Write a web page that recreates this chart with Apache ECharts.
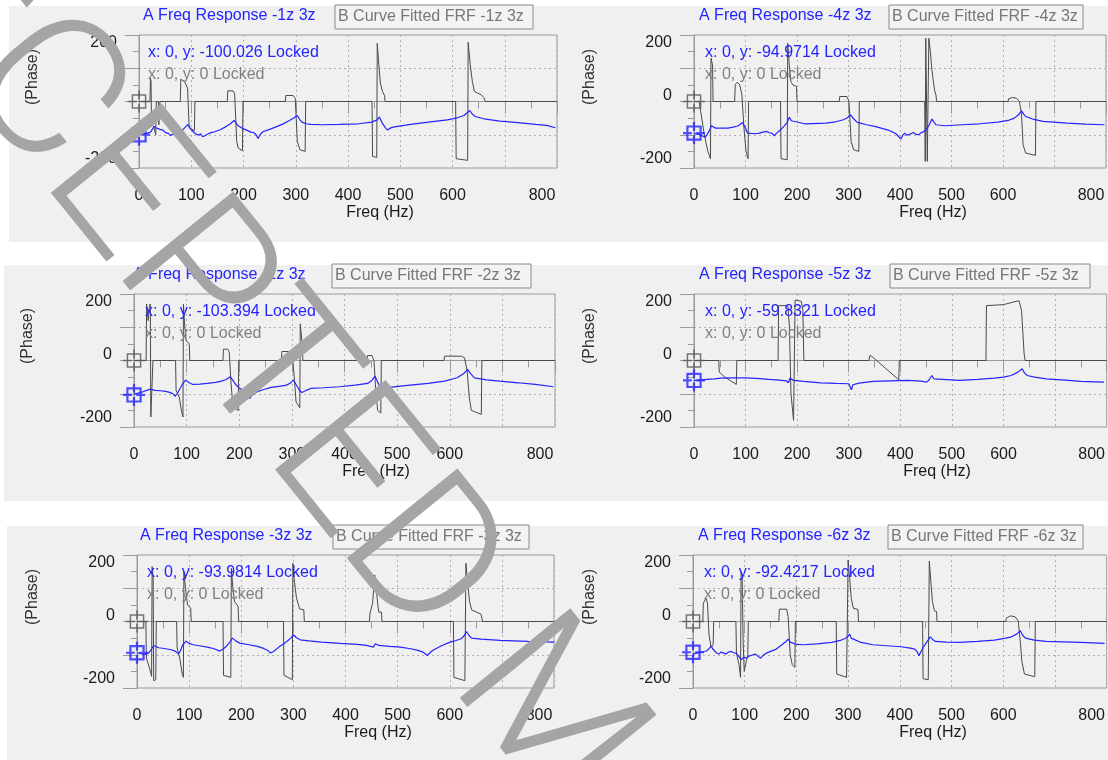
<!DOCTYPE html>
<html><head><meta charset="utf-8">
<script src="https://cdn.jsdelivr.net/npm/echarts@6/dist/echarts.min.js"></script>
<style>html,body{margin:0;padding:0;background:#fff}#c{width:1108px;height:760px}</style>
</head><body><div id="c"></div>
<script>
// ---------------- DATA ----------------
const panelIds = ['1z', '4z', '2z', '5z', '3z', '6z'];
const cursorA = [-100.026, -94.9714, -103.394, -59.8321, -93.9814, -92.4217];
const cursorB = [0, 0, 0, 0, 0, 0];
const freqTickLabels = [0, 100, 200, 300, 400, 500, 600, 800];
const phaseTickLabels = [-200, 0, 200];
const watermarkText = 'ACCEPTED MANUSCRIPT';

const A_1z = [[0,-101],[8,-97],[15,-96],[22,-92],[29,-75],[35,-81],[40,-84],[46,-86],[50,-93],[53,-90],[56,-96],[60,-102],[63,-106],[66,-98],[70,-96],[74,-93],[80,-91],[85,-83],[90,-75],[94,-69],[98,-80],[104,-91],[108,-97],[114,-101],[118,-97],[122,-106],[126,-103],[130,-99],[134,-96],[140,-93],[145,-91],[155,-85],[165,-77],[175,-67],[182,-57],[189,-72],[197,-80],[206,-86],[214,-92],[220,-94],[224,-100],[228,-111],[232,-99],[237,-91],[250,-84],[261,-77],[275,-68],[288,-57],[297,-49],[303,-42],[308,-55],[312,-62],[320,-67],[329,-69],[350,-70],[384,-69],[420,-67],[445,-62],[455,-56],[460,-47],[466,-66],[472,-80],[476,-86],[481,-80],[486,-77],[520,-69],[554,-62],[590,-55],[609,-49],[622,-42],[633,-27],[638,-38],[643,-45],[660,-52],[691,-59],[720,-63],[759,-69],[780,-72],[797,-79]];
const B_1z = [[0,0],[21,0],[22,70],[23,60],[24,-70],[28,-75],[32,-100],[33,0],[37,0],[38,-70],[39,-70],[40,0],[79,0],[80,67],[87,60],[93,40],[96,-80],[106,-88],[107,0],[169,0],[170,32],[180,32],[183,25],[187,-120],[190,-140],[198,-148],[199,0],[280,0],[281,18],[295,18],[299,10],[303,-120],[308,-145],[318,-150],[319,0],[446,0],[447,-165],[455,-168],[456,175],[459,110],[462,55],[466,30],[470,18],[471,0],[606,0],[607,-172],[629,-177],[630,178],[634,110],[638,60],[642,30],[655,20],[660,12],[663,0],[800,0]];

const A_4z = [[0,-95],[6,-98],[12,-100],[17,-104],[22,-107],[26,-98],[29,-90],[34,-73],[38,-77],[42,-80],[55,-80],[66,-80],[76,-77],[86,-73],[94,-63],[100,-80],[104,-95],[107,-100],[111,-96],[114,-93],[120,-97],[127,-95],[134,-92],[141,-90],[146,-94],[151,-95],[156,-103],[160,-96],[168,-85],[175,-74],[181,-63],[185,-47],[189,-58],[192,-63],[215,-67],[256,-65],[275,-61],[290,-55],[298,-49],[304,-40],[310,-52],[317,-63],[335,-70],[351,-75],[365,-81],[379,-87],[386,-92],[392,-97],[396,-103],[399,-105],[402,-113],[405,-102],[409,-95],[413,-101],[416,-105],[420,-98],[426,-93],[431,-99],[436,-100],[441,-94],[447,-90],[452,-82],[457,-70],[462,-53],[466,-62],[470,-70],[487,-73],[520,-70],[555,-67],[590,-62],[610,-57],[622,-50],[630,-40],[636,-28],[640,-38],[644,-45],[660,-54],[678,-60],[725,-65],[760,-68],[797,-70]];
const B_4z = [[0,0],[10,0],[13,-30],[20,-100],[27,-150],[32,-172],[33,130],[36,110],[37,0],[79,0],[80,50],[84,58],[89,50],[93,20],[97,-80],[101,-150],[105,-172],[106,0],[168,0],[169,-172],[181,-175],[182,175],[185,110],[188,60],[192,50],[199,45],[200,0],[282,0],[283,15],[297,15],[301,0],[305,-120],[310,-145],[320,-150],[321,0],[448,0],[449,-180],[450,190],[452,185],[453,-180],[455,-180],[456,190],[459,150],[461,110],[464,70],[467,35],[470,18],[471,0],[610,0],[611,8],[618,12],[626,10],[632,0],[636,-40],[639,-130],[644,-155],[663,-162],[664,0],[800,0]];

const A_2z = [[0,-101],[8,-98],[17,-94],[24,-90],[31,-86],[40,-90],[51,-91],[60,-93],[68,-96],[74,-100],[78,-108],[82,-100],[85,-91],[92,-72],[98,-59],[104,-66],[112,-72],[125,-71],[139,-69],[155,-66],[166,-62],[175,-57],[183,-49],[188,-60],[193,-72],[200,-82],[207,-91],[214,-100],[220,-114],[224,-105],[231,-96],[245,-88],[261,-81],[275,-78],[288,-75],[297,-68],[303,-59],[309,-75],[315,-91],[319,-96],[327,-90],[336,-84],[360,-82],[390,-79],[420,-74],[444,-69],[452,-60],[458,-47],[463,-65],[468,-81],[473,-90],[477,-96],[481,-88],[485,-81],[520,-75],[559,-69],[590,-62],[614,-52],[626,-40],[634,-27],[640,-40],[647,-52],[670,-58],[695,-62],[730,-67],[763,-72],[797,-79]];
const B_2z = [[0,0],[23,0],[24,170],[27,120],[29,160],[31,170],[32,-170],[35,-170],[36,0],[79,0],[80,-90],[86,-110],[90,-150],[93,-170],[94,170],[96,110],[99,60],[105,50],[106,0],[169,0],[170,34],[178,34],[181,25],[184,-60],[187,-120],[193,-145],[198,-150],[199,0],[280,0],[281,27],[297,27],[301,15],[305,-60],[308,-125],[315,-142],[316,110],[319,60],[321,0],[443,0],[444,15],[452,15],[456,0],[459,-80],[463,-150],[469,-158],[470,0],[589,0],[590,13],[622,13],[628,8],[633,-30],[637,-110],[641,-150],[660,-162],[661,0],[800,0]];

const A_5z = [[0,-60],[10,-59],[25,-57],[40,-55],[52,-53],[75,-52],[99,-52],[120,-54],[146,-57],[165,-59],[179,-61],[183,-67],[186,-53],[193,-60],[213,-63],[246,-67],[275,-69],[300,-70],[303,-76],[305,-88],[308,-73],[320,-68],[347,-63],[380,-61],[414,-60],[440,-62],[451,-65],[456,-58],[461,-45],[465,-55],[468,-60],[515,-60],[550,-57],[582,-53],[600,-50],[615,-45],[628,-35],[636,-25],[641,-38],[646,-45],[660,-50],[683,-55],[720,-59],[750,-63],[795,-65]];
const B_5z = [[0,0],[48,0],[49,-35],[60,-50],[82,-72],[83,0],[163,0],[164,165],[182,165],[185,100],[188,-100],[193,-180],[195,-182],[196,182],[208,178],[211,150],[213,0],[339,0],[341,15],[345,12],[397,-58],[398,0],[566,0],[567,165],[600,168],[630,180],[635,150],[640,20],[642,0],[800,0]];

const A_3z = [[0,-94],[8,-97],[15,-99],[22,-95],[27,-85],[32,-72],[37,-76],[42,-79],[55,-82],[66,-85],[74,-90],[80,-97],[84,-86],[87,-72],[94,-59],[100,-66],[108,-70],[120,-73],[135,-77],[148,-82],[159,-89],[166,-82],[173,-72],[178,-62],[183,-50],[190,-59],[197,-65],[215,-70],[231,-75],[243,-81],[251,-87],[256,-95],[258,-99],[262,-90],[272,-77],[281,-68],[289,-58],[295,-50],[300,-40],[306,-49],[313,-55],[330,-58],[354,-62],[390,-66],[423,-69],[440,-72],[454,-77],[457,-67],[460,-70],[464,-72],[485,-75],[505,-77],[525,-82],[539,-87],[550,-93],[557,-102],[562,-94],[567,-87],[585,-72],[601,-62],[612,-57],[622,-52],[628,-42],[632,-30],[637,-42],[642,-50],[660,-53],[697,-57],[750,-60],[800,-62]];
const B_3z = [[0,0],[17,0],[18,-110],[24,-140],[28,-165],[29,165],[31,130],[32,-178],[36,-175],[37,0],[76,0],[77,-80],[82,-110],[87,-160],[89,-168],[90,150],[93,100],[97,50],[103,40],[104,0],[165,0],[166,-162],[180,-168],[181,160],[184,100],[187,60],[194,45],[195,0],[281,0],[282,-162],[298,-175],[299,175],[302,120],[306,70],[312,38],[320,35],[321,0],[446,0],[447,25],[452,55],[456,140],[459,100],[462,50],[464,28],[469,28],[470,0],[607,0],[608,-168],[629,-178],[631,175],[634,120],[638,60],[642,35],[660,22],[663,0],[800,0]];

const A_6z = [[0,-98],[7,-95],[13,-93],[20,-91],[27,-88],[32,-80],[35,-73],[38,-82],[40,-88],[45,-94],[50,-98],[54,-92],[57,-88],[60,-95],[64,-98],[68,-92],[74,-90],[79,-94],[84,-96],[87,-102],[90,-108],[93,-115],[95,-118],[98,-108],[100,-103],[104,-110],[108,-104],[111,-108],[116,-100],[121,-98],[126,-105],[131,-110],[136,-101],[141,-96],[150,-90],[161,-83],[172,-70],[180,-60],[184,-53],[188,-62],[191,-66],[200,-69],[214,-70],[240,-67],[268,-63],[285,-57],[298,-48],[303,-38],[306,-50],[308,-56],[325,-63],[348,-70],[375,-73],[402,-76],[420,-80],[429,-83],[434,-92],[437,-103],[441,-90],[445,-78],[452,-62],[459,-46],[464,-55],[469,-60],[490,-62],[516,-63],[550,-60],[583,-56],[605,-50],[616,-46],[626,-38],[633,-28],[638,-42],[643,-50],[660,-56],[683,-60],[750,-63],[796,-66]];
const B_6z = [[0,0],[19,0],[20,55],[25,70],[28,55],[31,-40],[35,-78],[39,-70],[40,0],[83,0],[84,-95],[89,-130],[92,-168],[93,150],[95,140],[97,-60],[99,-150],[103,-120],[106,-100],[107,0],[166,0],[167,37],[181,37],[184,15],[188,-100],[192,-130],[197,-138],[198,0],[277,0],[278,-158],[297,-168],[300,185],[303,130],[306,70],[310,40],[319,36],[320,0],[444,0],[445,-172],[455,-175],[457,182],[460,120],[463,60],[467,32],[471,30],[472,0],[605,0],[606,10],[614,17],[623,14],[629,2],[633,-60],[636,-120],[641,-158],[661,-166],[662,0],[800,0]];

const seriesA = [A_1z, A_4z, A_2z, A_5z, A_3z, A_6z];
const seriesB = [B_1z, B_4z, B_2z, B_5z, B_3z, B_6z];

// ---------------- LAYOUT ----------------
const rowDy = [0, 259, 520];
const rowBgLeft = [9, 4, 7];
const layouts = [
  {row:0, gl:139, gw:418, titleX:143, boxX:335, boxW:198, curX:148, phaseX:33, freqX:380},
  {row:0, gl:694, gw:412, titleX:699, boxX:889, boxW:194, curX:705, phaseX:590, freqX:933},
  {row:1, gl:134, gw:421, titleX:133, boxX:332, boxW:199, curX:145, phaseX:28, freqX:376},
  {row:1, gl:694, gw:417, titleX:699, boxX:890, boxW:200, curX:705, phaseX:590, freqX:937},
  {row:2, gl:137, gw:417, titleX:140, boxX:333, boxW:196, curX:147, phaseX:33, freqX:378},
  {row:2, gl:693, gw:417, titleX:698, boxX:888, boxW:195, curX:704, phaseX:590, freqX:933}
];
const FONT = '"Liberation Sans", Arial, sans-serif';
const WM_FONT = 'Roboto, "Liberation Sans", sans-serif';
const BLUE = '#2424ff';
const GRAYLINE = '#4a4a4a';
const FRAME = '#9a9a9a';
const GRID = '#b0b0b0';

const cursorPath = 'path://M4,4L16,4L16,16L4,16Z M10,0L10,8 M10,12L10,20 M0,10L8,10 M12,10L20,10';

const grids = [], xAxes = [], yAxes = [], series = [], graphics = [];

rowDy.forEach((dy, r) => {
  graphics.push({type:'rect', z:-10, shape:{x:rowBgLeft[r], y:6+dy, width:1108-rowBgLeft[r], height:236}, style:{fill:'#f0f0f0'}});
});

function txt(x, y, text, fill, opts) {
  return Object.assign({type:'text', x:x, y:y, z:20,
    style:{text:text, fill:fill, fontSize:16, fontFamily:FONT, align:'left', verticalAlign:'middle', textAlign:'left', textVerticalAlign:'middle'}}, opts || {});
}

layouts.forEach((L, i) => {
  const dy = rowDy[L.row];
  const top = 35 + dy;
  grids.push({left:L.gl, top:top, width:L.gw, height:133, show:true, borderColor:FRAME, borderWidth:1, backgroundColor:'transparent'});
  xAxes.push({
    gridIndex:i, type:'value', min:0, max:800, interval:100,
    axisLine:{show:true, lineStyle:{color:FRAME}},
    axisTick:{show:true, length:12, lineStyle:{color:FRAME}},
    minorTick:{show:true, splitNumber:2, length:7, lineStyle:{color:FRAME}},
    splitLine:{show:true, lineStyle:{color:GRID, type:[2,3], width:1}},
    axisLabel:{margin:20, color:'#1a1a1a', fontSize:16, fontFamily:FONT,
      formatter: v => freqTickLabels.includes(v) ? (v === 800 ? '{r|' + v + '}' : String(v)) : '',
      rich:{r:{padding:[0,30,0,0], fontSize:16, fontFamily:FONT, color:'#1a1a1a'}}}
  });
  yAxes.push({
    gridIndex:i, type:'value', min:-200, max:200, interval:100,
    axisLine:{show:true, lineStyle:{color:FRAME}},
    axisTick:{show:true, length:14, lineStyle:{color:FRAME}},
    minorTick:{show:true, splitNumber:2, length:6, lineStyle:{color:FRAME}},
    splitLine:{show:true, lineStyle:{color:['transparent', GRID], type:[2,3], width:1}},
    axisLabel:{margin:22, color:'#1a1a1a', fontSize:16, fontFamily:FONT,
      formatter: v => phaseTickLabels.includes(v) ? (v > 0 ? '{t|' + v + '}' : v === 0 ? '{m|' + v + '}' : '{b|' + v + '}') : '',
      rich:{
        t:{padding:[16,0,0,0], fontSize:16, fontFamily:FONT, color:'#1a1a1a'},
        m:{padding:[0,0,11,0], fontSize:16, fontFamily:FONT, color:'#1a1a1a'},
        b:{padding:[0,0,18,0], fontSize:16, fontFamily:FONT, color:'#1a1a1a'}}}
  });
  series.push({type:'line', xAxisIndex:i, yAxisIndex:i, data:seriesB[i], showSymbol:false, symbol:'none',
    lineStyle:{color:GRAYLINE, width:1}, z:3, animation:false, silent:true});
  series.push({type:'line', xAxisIndex:i, yAxisIndex:i, data:seriesA[i], showSymbol:false, symbol:'none',
    lineStyle:{color:BLUE, width:1.2}, z:4, animation:false, silent:true});
  series.push({type:'scatter', xAxisIndex:i, yAxisIndex:i, data:[[0, cursorB[i]]], symbol:cursorPath, symbolSize:[22,22],
    itemStyle:{color:'transparent', borderColor:'#555', borderWidth:1.5}, clip:false, z:5, animation:false, silent:true});
  series.push({type:'scatter', xAxisIndex:i, yAxisIndex:i, data:[[0, cursorA[i]]], symbol:cursorPath, symbolSize:[22,22],
    itemStyle:{color:'transparent', borderColor:BLUE, borderWidth:2.2}, clip:false, z:6, animation:false, silent:true});

  graphics.push(txt(L.titleX, 16 + dy, 'A Freq Response -' + panelIds[i] + ' 3z', BLUE));
  graphics.push({type:'rect', z:15, shape:{x:L.boxX, y:5 + dy, width:L.boxW, height:24}, style:{fill:'#f3f3f3', stroke:'#8a8a8a', lineWidth:1}});
  graphics.push(txt(L.boxX + 3, 17 + dy, 'B Curve Fitted FRF -' + panelIds[i] + ' 3z', '#777777'));
  graphics.push(txt(L.curX, 53 + dy, 'x: 0, y: ' + cursorA[i] + ' Locked', BLUE));
  graphics.push(txt(L.curX, 75 + dy, 'x: 0, y: ' + cursorB[i] + ' Locked', '#808080'));
  graphics.push({type:'text', x:L.phaseX, y:77 + dy, rotation:Math.PI / 2, z:20,
    style:{text:'(Phase)', fill:'#333', fontSize:16, fontFamily:FONT, align:'center', verticalAlign:'middle', textAlign:'center', textVerticalAlign:'middle'}});
  graphics.push({type:'text', x:L.freqX, y:213 + dy, z:20,
    style:{text:'Freq (Hz)', fill:'#1a1a1a', fontSize:16, fontFamily:FONT, align:'center', verticalAlign:'middle', textAlign:'center', textVerticalAlign:'middle'}});
});

// watermark (diagonal gray text over the figure)
const wmAngle = 51 * Math.PI / 180;
graphics.push({type:'text', x:-163, y:-151, rotation:-wmAngle, z:100,
  style:{text:watermarkText, fill:'#a5a5a5', fontSize:200, fontWeight:300, fontFamily:WM_FONT, align:'left', verticalAlign:'middle', textAlign:'left', textVerticalAlign:'middle'}});

const chart = echarts.init(document.getElementById('c'), null, {renderer:'canvas'});
chart.setOption({
  backgroundColor:'#ffffff',
  animation:false,
  grid:grids, xAxis:xAxes, yAxis:yAxes, series:series,
  graphic:{elements:graphics}
});
</script>
</body></html>
